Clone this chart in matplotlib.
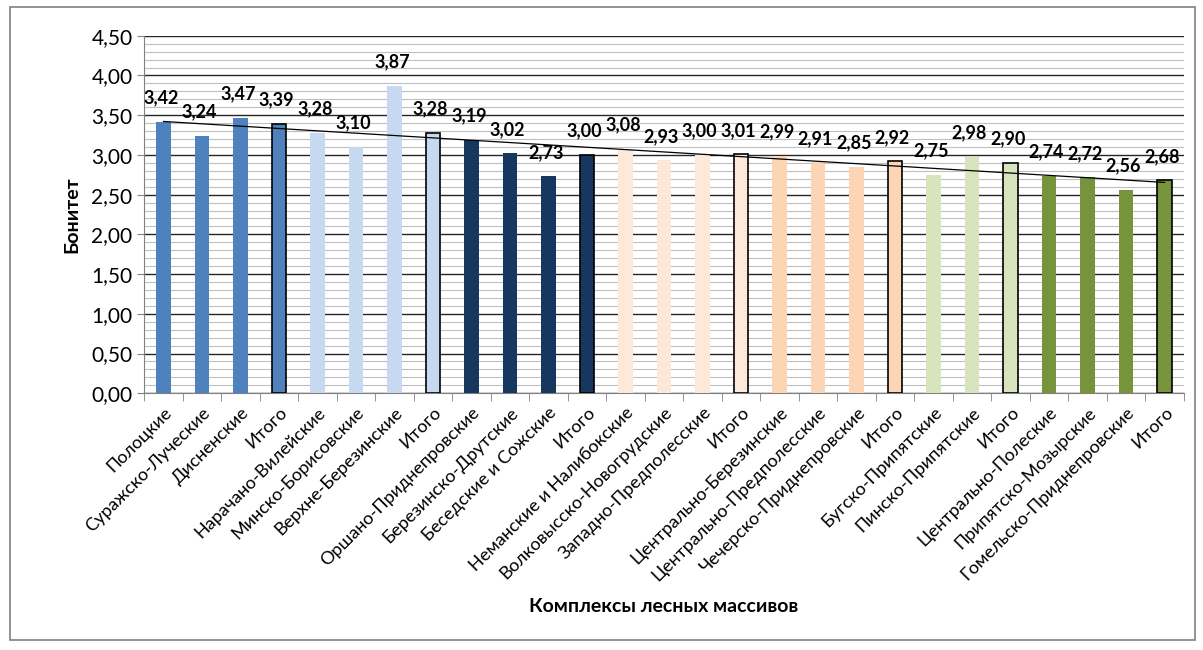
import matplotlib.pyplot as plt
import numpy as np
from matplotlib.patches import Rectangle
from matplotlib.ticker import FuncFormatter, MultipleLocator

plt.rcParams["font.family"] = ["Lato", "DejaVu Sans"]

categories = [
    "Полоцкие", "Суражско-Луческие", "Дисненские", "Итого",
    "Нарачано-Вилейские", "Минско-Борисовские", "Верхне-Березинские", "Итого",
    "Оршано-Приднепровские", "Березинско-Друтские", "Беседские и Сожские", "Итого",
    "Неманские и Налибокские", "Волковысско-Новогрудские", "Западно-Предполесские", "Итого",
    "Центрально-Березинские", "Центрально-Предполесские", "Чечерско-Приднепровские", "Итого",
    "Бугско-Припятские", "Пинско-Припятские", "Итого",
    "Центрально-Полеские", "Припятско-Мозырские", "Гомельско-Приднепровские", "Итого",
]
values = [
    3.42, 3.24, 3.47, 3.39,
    3.28, 3.10, 3.87, 3.28,
    3.19, 3.02, 2.73, 3.00,
    3.08, 2.93, 3.00, 3.01,
    2.99, 2.91, 2.85, 2.92,
    2.75, 2.98, 2.90,
    2.74, 2.72, 2.56, 2.68,
]
group_sizes = [4, 4, 4, 4, 4, 3, 4]
group_colors = ["#4F81BD", "#C6D9F1", "#17375E", "#FDE9D9", "#FCD5B5", "#D7E4BD", "#77933C"]

colors = []
for size, c in zip(group_sizes, group_colors):
    colors += [c] * size
is_total = [c == "Итого" for c in categories]

fig = plt.figure(figsize=(12.03, 6.5), dpi=100)
ax = fig.add_axes([0.12, 0.395, 0.864, 0.55])

x = np.arange(len(categories))
ax.bar(x, values, width=0.37, color=colors,
       edgecolor=["black" if t else "none" for t in is_total],
       linewidth=1.2, zorder=3)

for xi, v in zip(x, values):
    ax.annotate(f"{v:.2f}".replace(".", ","), (xi, v), xytext=(-2, 11),
                textcoords="offset points", ha="center", va="bottom",
                fontsize=13, fontweight="bold", zorder=5)

# linear trend
k, b = np.polyfit(x, values, 1)
ax.plot([x[0], x[-1]], [k * x[0] + b, k * x[-1] + b], color="black", lw=0.9, zorder=4)

ax.set_ylim(0, 4.5)
ax.set_xlim(-0.5, len(categories) - 0.5)
ax.yaxis.set_major_locator(MultipleLocator(0.5))
ax.yaxis.set_minor_locator(MultipleLocator(0.1))
ax.yaxis.set_major_formatter(FuncFormatter(lambda v, p: f"{v:.2f}".replace(".", ",")))
ax.grid(axis="y", which="major", color="#262626", lw=1.0, zorder=0)
ax.grid(axis="y", which="minor", color="#BFBFBF", lw=0.8, zorder=0)
ax.tick_params(axis="y", which="minor", length=0)
ax.tick_params(axis="y", which="major", labelsize=15, length=5, color="#808080")

ax.set_xticks(x)
ax.set_xticklabels(categories, rotation=45, ha="right", rotation_mode="anchor", fontsize=13)
ax.tick_params(axis="x", which="major", length=0, pad=8)
ax.set_xticks(np.arange(-0.5, len(categories), 1), minor=True)
ax.tick_params(axis="x", which="minor", length=6, color="#808080")

for s in ["top", "right"]:
    ax.spines[s].set_visible(False)
ax.spines["left"].set_color("#808080")
ax.spines["bottom"].set_color("#808080")

ax.set_ylabel("Бонитет", fontsize=14, fontweight="bold", labelpad=8)
ax.set_xlabel("Комплексы лесных массивов", fontsize=14, fontweight="bold", labelpad=10)

fig.patches.append(Rectangle((0.008, 0.015), 0.985, 0.975, transform=fig.transFigure,
                             fill=False, edgecolor="#808080", lw=1.2))

fig.savefig("out.png", dpi=100)
